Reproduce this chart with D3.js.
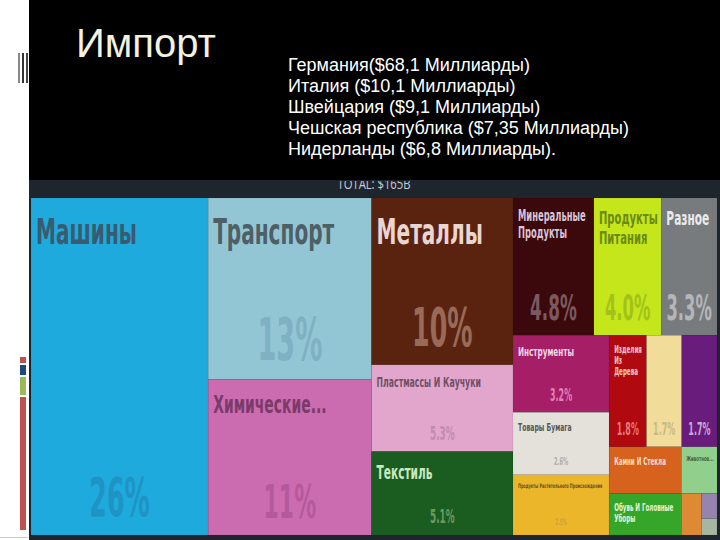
<!DOCTYPE html>
<html><head><meta charset="utf-8">
<script src="https://cdn.jsdelivr.net/npm/d3@7"></script>
<style>html,body{margin:0;padding:0;background:#fff;overflow:hidden} svg{display:block}</style>
</head><body>
<svg id="c" width="720" height="540"></svg>
<script>
// ---------- data ----------
const title = "Импорт";
const partnerLines = [
  "Германия($68,1 Миллиарды)",
  "Италия ($10,1 Миллиарды)",
  "Швейцария ($9,1 Миллиарды)",
  "Чешская республика ($7,35 Миллиарды)",
  "Нидерланды ($6,8 Миллиарды)."
];
const totalLabel = "TOTAL: $165B";
const categories = [
  "Машины", "Транспорт", "Химические продукты", "Металлы", "Пластмассы И Каучуки",
  "Текстиль", "Минеральные Продукты", "Продукты Питания", "Разное", "Инструменты",
  "Товары Бумага", "Продукты Растительного Происхождения", "Изделия Из Дерева",
  "Продукты Животного Происхождения", "Драгоценные Металлы", "Камни И Стекла",
  "Животное сырьё", "Обувь И Головные Уборы", "Жиры", "Оружие", "Искусство"
];
const displayNames = [
  "Машины", "Транспорт", "Химические...", "Металлы", "Пластмассы И Каучуки",
  "Текстиль", "Минеральные Продукты", "Продукты Питания", "Разное", "Инструменты",
  "Товары Бумага", "Продукты Растительного Происхождения", "Изделия Из Дерева",
  "", "", "Камни И Стекла", "Животное...", "Обувь И Головные Уборы", "", "", ""
];
const shares = [25.8, 12.8, 11.0, 10.2, 5.3, 5.1, 4.8, 4.0, 3.3, 3.2, 2.6, 2.5, 1.8, 1.7, 1.7, 1.45, 0.72, 1.3, 0.36, 0.17, 0.11];
// nesting of the category indices (structure of the tree map)
const groups = [0, [1, 2], [3, 4, 5], [[6, 7, 8], [[9, 10, 11], [[12, 13, 14], [[15, 17], [16, [18, [19, 20]]]]]]]];

// ---------- styles ----------
const fills = ["#1eaadc", "#93c6d4", "#cc6cb0", "#5a2310", "#e2a6cc", "#1b5c20", "#3b080c", "#c6e61c", "#777b7e", "#a51e66",
  "#e4e0da", "#ebb62a", "#b00a10", "#f2dc9a", "#6a1c7c", "#d6621e", "#90d08c", "#36a62a", "#de8a34", "#9684ae", "#a6b6a0"];
const nameColors = ["#3a5a70", "#4e5f66", "#7a3a6a", "#ead6d0", "#6e5066", "#c8e8c0", "#d8c4d8", "#6a8a14", "#eaeaea", "#f0d8e8",
  "#585858", "#6a5020", "#f4c8c8", "#000", "#000", "#f8dcc8", "#406040", "#e4f4d8", "#000", "#000", "#000"];
const pctColors = ["#1e93c4", "#7fb1c2", "#b45a9c", "#9a6a58", "#c08cae", "#6a9a60", "#7a5a60", "#a2c21a", "#b4b6b8", "#e080b8",
  "#b0aca8", "#d0a040", "#e87878", "#c8b884", "#c8a8d8", "#000", "#000", "#000", "#000", "#000", "#000"];
const nameSizes = [36, 36, 25, 36, 14, 19, 15, 18, 19, 13, 11, 6.2, 10, 0, 0, 10, 7, 10, 0, 0, 0];
const pctSizes = [54, 58, 47, 54, 19, 19, 36, 35, 35, 17, 11, 9, 17, 17, 17, 0, 0, 0, 0, 0, 0];
const LABEL_FONT = "'Liberation Sans Narrow','Arial Narrow','DejaVu Sans Condensed',sans-serif";
const NAME_SX = 0.62, PCT_SX = 0.52;

const svg = d3.select("#c");

// slide background
svg.append("rect").attr("x", 29).attr("y", 0).attr("width", 691).attr("height", 182).attr("fill", "#000");
// left decorations
[[18, 2, "#888"], [22, 2, "#333"], [26, 2, "#444"]].forEach(b =>
  svg.append("rect").attr("x", b[0]).attr("y", 53).attr("width", b[1]).attr("height", 30).attr("fill", b[2]));
[[357, 6, "#c0504d"], [365, 10, "#1f497d"], [377, 18, "#9bbb59"], [397, 133, "#c0504d"]].forEach(b =>
  svg.append("rect").attr("x", 20).attr("y", b[0]).attr("width", 6).attr("height", b[1]).attr("fill", b[2]));
svg.append("rect").attr("x", 0).attr("y", 537).attr("width", 28).attr("height", 1).attr("fill", "#ccc");

svg.append("text").attr("x", 76).attr("y", 57).text(title)
  .attr("font-family", "'Liberation Sans',Arial,sans-serif").attr("font-size", 40).attr("fill", "#f2f2de");

svg.append("g").selectAll("text").data(partnerLines).join("text")
  .attr("x", 288).attr("y", (d, i) => 71 + i * 21)
  .attr("font-family", "'Liberation Sans',Arial,sans-serif").attr("font-size", 18).attr("fill", "#fff")
  .text(d => d);

// tree map image frame
svg.append("rect").attr("x", 29).attr("y", 180).attr("width", 691).attr("height", 360).attr("fill", "#1f252d");
svg.append("clipPath").attr("id", "hdr").append("rect").attr("x", 29).attr("y", 181).attr("width", 691).attr("height", 16);
svg.append("text").attr("clip-path", "url(#hdr)").attr("x", 374).attr("y", 189).attr("text-anchor", "middle")
  .attr("font-family", "'Open Sans',sans-serif").attr("font-size", 14).attr("fill", "#c9ccd0")
  .attr("textLength", 73).attr("lengthAdjust", "spacingAndGlyphs").text(totalLabel);

const X0 = 31, Y0 = 198, W = 686, H = 337;
function build(g) {
  return Array.isArray(g) ? { children: g.map(build) } : { idx: g, name: categories[g], value: shares[g] };
}
const root = d3.hierarchy(build(groups)).sum(d => d.value || 0);
d3.treemap().tile(d3.treemapSliceDice).size([W, H]).round(false)(root);

const fmt = v => v >= 10 ? Math.round(v) + "%" : v.toFixed(1) + "%";

const cells = svg.append("g").attr("transform", `translate(${X0},${Y0})`)
  .selectAll("g").data(root.leaves()).join("g");

cells.append("rect")
  .attr("x", d => d.x0).attr("y", d => d.y0)
  .attr("width", d => d.x1 - d.x0).attr("height", d => d.y1 - d.y0)
  .attr("fill", d => fills[d.data.idx])
  .attr("stroke", "rgba(0,0,0,0.1)").attr("stroke-width", 0.5);

// names (wrapped)
cells.each(function (d) {
  const i = d.data.idx, size = nameSizes[i], label = displayNames[i];
  if (!label || !size) return;
  const g = d3.select(this);
  const maxW = (d.x1 - d.x0) - 7;
  const t = g.append("text").attr("font-family", LABEL_FONT).attr("font-weight", "bold")
    .attr("font-size", size).attr("fill", nameColors[i])
    .attr("transform", `translate(${d.x0 + 5},${d.y0 + 0.35 * size + 7 + 0.72 * size}) scale(${NAME_SX},1)`);
  const words = label.split(" ");
  let line = [], lineNo = 0;
  let tspan = t.append("tspan").attr("x", 0).attr("y", 0);
  words.forEach(w => {
    line.push(w);
    tspan.text(line.join(" "));
    if (line.length > 1 && tspan.node().getComputedTextLength() * NAME_SX > maxW) {
      line.pop();
      tspan.text(line.join(" "));
      line = [w];
      lineNo++;
      tspan = t.append("tspan").attr("x", 0).attr("y", lineNo * size * 1.12).text(w);
    }
  });
});

// percentages
cells.filter(d => pctSizes[d.data.idx] > 0).append("text")
  .attr("font-family", LABEL_FONT).attr("font-weight", "bold")
  .attr("font-size", d => pctSizes[d.data.idx]).attr("fill", d => pctColors[d.data.idx])
  .attr("text-anchor", "middle")
  .attr("transform", d => `translate(${(d.x0 + d.x1) / 2},${d.y1 - (0.2 * pctSizes[d.data.idx] + 8)}) scale(${PCT_SX},1)`)
  .text(d => fmt(d.data.value));
</script>
</body></html>
